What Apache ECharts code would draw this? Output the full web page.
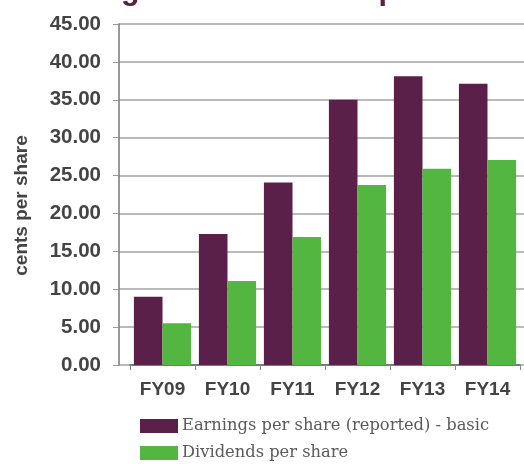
<!DOCTYPE html>
<html>
<head>
<meta charset="utf-8">
<script src="https://cdn.jsdelivr.net/npm/echarts@6/dist/echarts.min.js"></script>
<style>
  html, body { margin: 0; padding: 0; background: #fff; }
  #chart { width: 524px; height: 464px; }
</style>
</head>
<body>
<div id="chart"></div>
<script>
// data
var years = ['FY09', 'FY10', 'FY11', 'FY12', 'FY13', 'FY14'];
var earnings = [9.0, 17.3, 24.1, 35.0, 38.1, 37.1];
var dividends = [5.5, 11.1, 16.9, 23.75, 25.9, 27.05];
var seriesNames = ['Earnings per share (reported) - basic', 'Dividends per share'];

var PURPLE = '#5a2049';
var GREEN = '#52b641';

function fmt2(v) {
    return v.toFixed(2);
}

function legendAt(name, top) {
    return {
        left: 135,
        top: top,
        itemWidth: 38,
        itemHeight: 14,
        itemGap: 6,
        icon: 'rect',
        data: [name],
        textStyle: { color: '#5a5a5a', fontSize: 16.3, fontFamily: 'DejaVu Serif', padding: [0, 0, 0, -1] }
    };
}

var myChart = echarts.init(document.getElementById('chart'));

var option = {
    animation: false,
    backgroundColor: '#fff',
    title: {
        text: 'Earnings and dividends per share',
        left: 21,
        top: -30,
        textStyle: { color: PURPLE, fontSize: 30.5, fontWeight: 'bold', fontFamily: 'Liberation Sans' }
    },
    legend: [legendAt(seriesNames[0], 413), legendAt(seriesNames[1], 440)],
    grid: [
        // background grid: y axis + gridlines
        { left: 119, right: -60, top: 24, bottom: 99 },
        // bars
        { left: 130, width: 390, top: 24, bottom: 99 }
    ],
    xAxis: [
        {
            gridIndex: 0, type: 'category', data: [''],
            axisLine: { show: false }, axisTick: { show: false }, axisLabel: { show: false }
        },
        {
            gridIndex: 1, type: 'category', data: years,
            axisLine: { show: true, lineStyle: { color: '#666', width: 1.5 } },
            axisTick: { show: true, length: 5, lineStyle: { color: '#888' } },
            axisLabel: { color: '#444', fontSize: 19, fontWeight: 'bold', fontFamily: 'Liberation Sans', margin: 15 }
        }
    ],
    yAxis: [
        {
            gridIndex: 0, type: 'value', min: 0, max: 45, interval: 5,
            name: 'cents per share',
            nameLocation: 'middle',
            nameGap: 88,
            nameRotate: 90,
            nameTextStyle: { color: '#444', fontSize: 19, fontWeight: 'bold', fontFamily: 'Liberation Sans', padding: [0, 22, 0, 0] },
            axisLine: { show: true, lineStyle: { color: '#777', width: 1.5 } },
            axisTick: { show: true, length: 6, lineStyle: { color: '#999' } },
            axisLabel: { color: '#444', fontSize: 20.5, fontWeight: 'bold', fontFamily: 'Liberation Sans', margin: 18, formatter: fmt2 },
            splitLine: { show: true, lineStyle: { color: '#a3a3a3', width: 1.5 } }
        },
        {
            gridIndex: 1, type: 'value', min: 0, max: 45, interval: 5, show: false
        }
    ],
    series: [
        {
            name: seriesNames[0], type: 'bar', xAxisIndex: 1, yAxisIndex: 1,
            data: earnings, itemStyle: { color: PURPLE },
            barGap: '0%', barCategoryGap: '12%'
        },
        {
            name: seriesNames[1], type: 'bar', xAxisIndex: 1, yAxisIndex: 1,
            data: dividends, itemStyle: { color: GREEN },
            barGap: '0%', barCategoryGap: '12%'
        }
    ]
};

myChart.setOption(option);
</script>
</body>
</html>
